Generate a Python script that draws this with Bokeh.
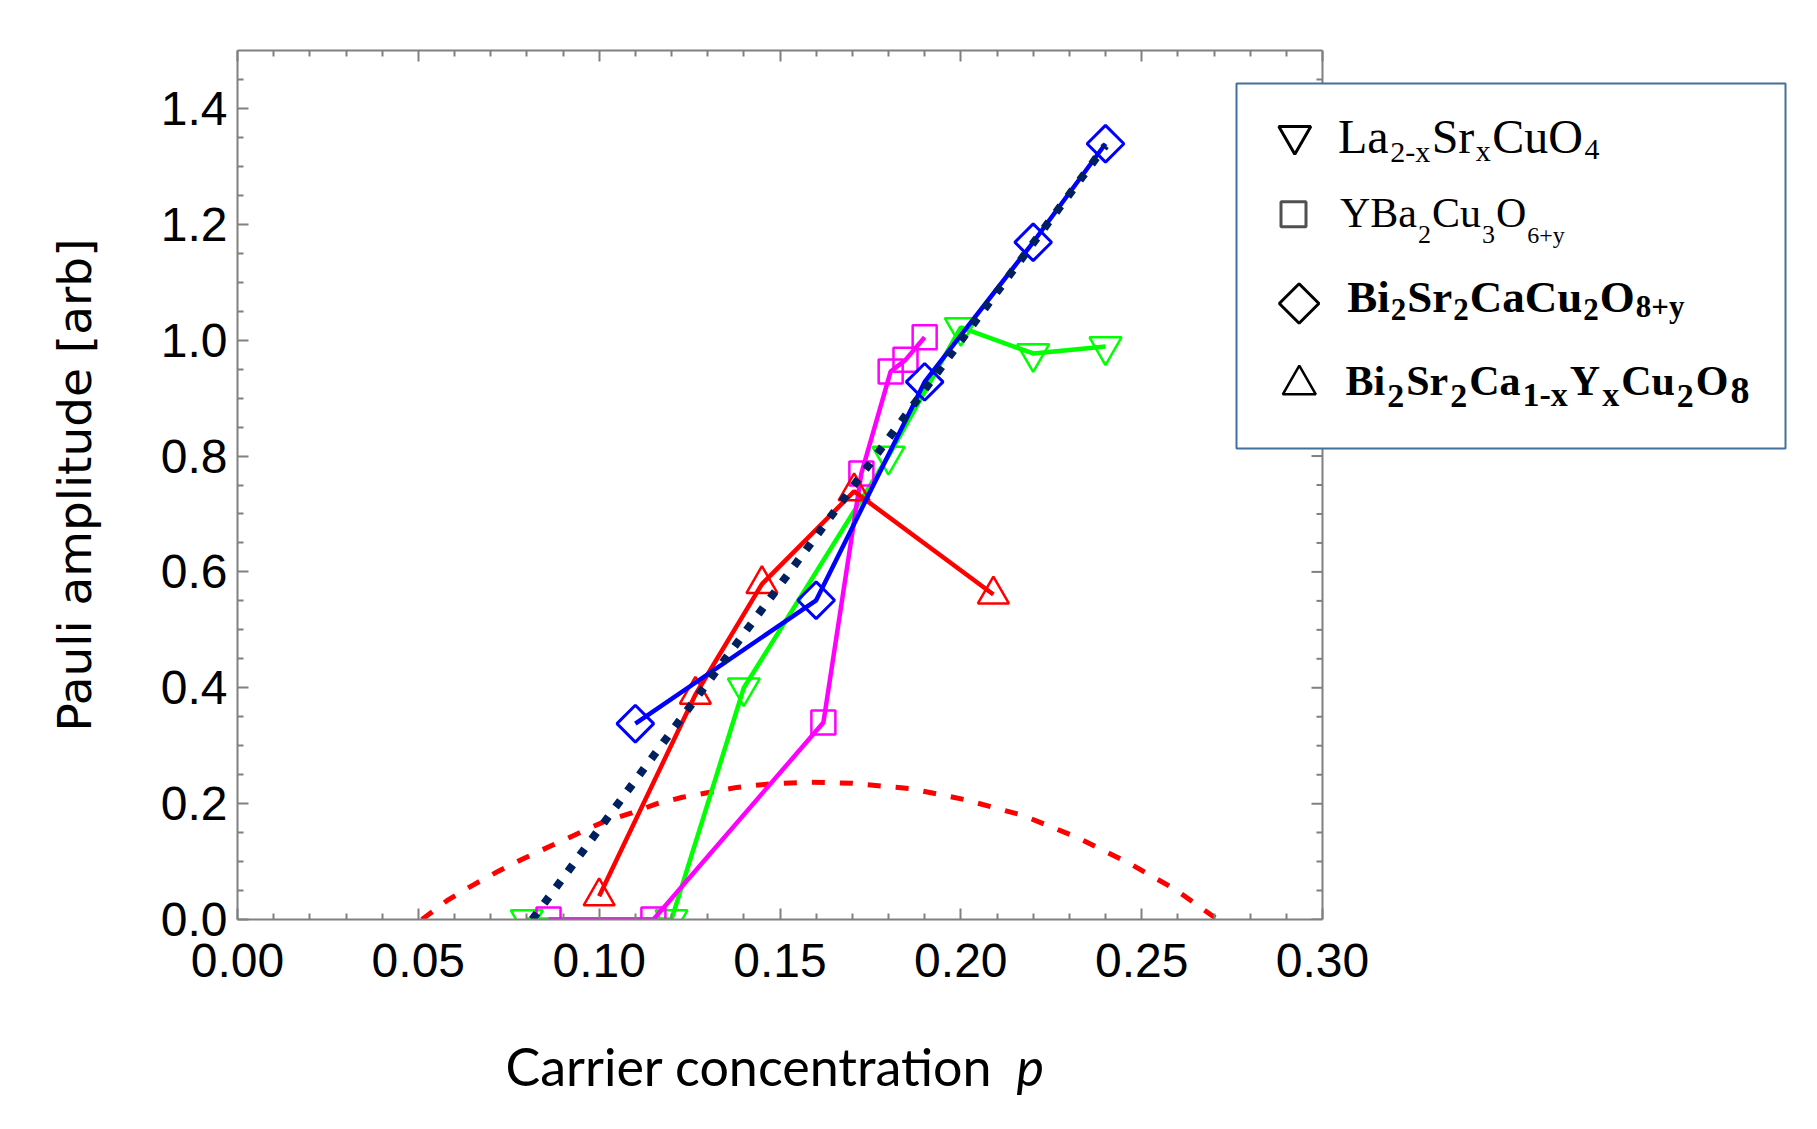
from bokeh.plotting import figure
from bokeh.models import (Range1d, LinearAxis, FixedTicker, NumeralTickFormatter,
                          CustomJSTickFormatter, Label, BoxAnnotation)
from bokeh.embed import file_html
from bokeh.resources import INLINE

# ---------------- data ----------------
X_MIN, X_MAX = 0.0, 0.30
Y_MIN, Y_MAX = 0.0, 1.5
x_major_ticks = [0.00, 0.05, 0.10, 0.15, 0.20, 0.25, 0.30]
y_major_ticks = [0.0, 0.2, 0.4, 0.6, 0.8, 1.0, 1.2, 1.4]
x_minor_step = 0.01
y_minor_step = 0.05

x_label = "Carrier concentration"
x_label_var = "p"
y_label = "Pauli amplitude [arb]"

# La2-xSrxCuO4 (green, down triangles)
lsco_p = [0.080, 0.120, 0.140, 0.180, 0.200, 0.220, 0.240]
lsco_a = [0.000, 0.000, 0.400, 0.800, 1.022, 0.977, 0.989]

# YBa2Cu3O6+y (magenta, squares)
ybco_p = [0.086, 0.115, 0.162, 0.1725, 0.1806, 0.1847, 0.190]
ybco_a = [0.000, 0.000, 0.340, 0.770, 0.946, 0.966, 1.005]

# Bi2Sr2CaCu2O8+y (blue, diamonds)
bscco_p = [0.110, 0.160, 0.190, 0.220, 0.240]
bscco_a = [0.338, 0.551, 0.928, 1.169, 1.339]

# Bi2Sr2Ca1-xYxCu2O8 (red, up triangles)
bscyo_p = [0.100, 0.1266, 0.145, 0.1705, 0.209]
bscyo_a = [0.040, 0.388, 0.579, 0.739, 0.561]

# dotted linear fit (navy)
fit_p = [0.0815, 0.240]
fit_a = [0.000, 1.336]

# dashed dome (red)
dome_p = [0.051, 0.058, 0.065, 0.072, 0.079, 0.087, 0.094, 0.101, 0.109, 0.116,
          0.123, 0.131, 0.138, 0.147, 0.158, 0.170, 0.186, 0.201, 0.217, 0.232,
          0.246, 0.259, 0.271]
dome_a = [0.000, 0.033, 0.059, 0.083, 0.105, 0.128, 0.148, 0.168, 0.184, 0.200,
          0.211, 0.220, 0.228, 0.234, 0.237, 0.235, 0.226, 0.207, 0.180, 0.142,
          0.099, 0.053, 0.000]

# ---------------- layout helpers (page pixels -> data coords) ----------------
PL, PR, PT, PB = 237, 1322, 50, 919   # plot-box edges on the page
FRAME_R = 1795                        # frame extends right to hold the legend box
W, H = 1808, 1118


def dx(px):
    return X_MIN + (px - PL) / (PR - PL) * (X_MAX - X_MIN)


def dy(py):
    return Y_MIN + (PB - py) / (PB - PT) * (Y_MAX - Y_MIN)


x_minor_ticks = [round(i * x_minor_step, 3) for i in range(int(round(X_MAX / x_minor_step)) + 1)]
y_minor_ticks = [round(i * y_minor_step, 3) for i in range(int(round(Y_MAX / y_minor_step)))]
x_minor_ticks = [t for t in x_minor_ticks if all(abs(t - m) > 1e-9 for m in x_major_ticks)]
y_minor_ticks = [t for t in y_minor_ticks if all(abs(t - m) > 1e-9 for m in y_major_ticks)]

p = figure(frame_width=FRAME_R - PL, frame_height=PB - PT,
           x_range=Range1d(X_MIN, dx(FRAME_R)), y_range=Range1d(Y_MIN, Y_MAX),
           output_backend="svg", toolbar_location=None,
           min_border_left=PL, min_border_top=PT,
           min_border_right=W - FRAME_R, min_border_bottom=H - PB)
p.outline_line_color = None
p.grid.visible = False
p.background_fill_color = "white"
p.border_fill_color = "white"

AX_COL = "#808080"
MAJ_IN, MIN_IN = 11, 6


def style_axis(ax, ticker, fmt, labels=True):
    ax.ticker = ticker
    ax.axis_line_color = AX_COL
    ax.axis_line_width = 2
    ax.major_tick_line_color = AX_COL
    ax.major_tick_line_width = 2
    ax.major_tick_in = MAJ_IN
    ax.major_tick_out = 0
    ax.minor_tick_line_color = AX_COL
    ax.minor_tick_line_width = 2
    ax.minor_tick_in = MIN_IN
    ax.minor_tick_out = 0
    if labels:
        ax.formatter = fmt
        ax.major_label_text_font = "Liberation Sans"
        ax.major_label_text_font_size = "48px"
        ax.major_label_text_color = "black"
    else:
        ax.formatter = CustomJSTickFormatter(code="return ''")
        ax.major_label_standoff = 0


xb = p.xaxis[0]
yl = p.yaxis[0]
style_axis(xb, FixedTicker(ticks=x_major_ticks, minor_ticks=x_minor_ticks), NumeralTickFormatter(format="0.00"))
xb.bounds = (X_MIN, X_MAX)
style_axis(yl, FixedTicker(ticks=y_major_ticks, minor_ticks=y_minor_ticks), NumeralTickFormatter(format="0.0"))
xb.major_label_standoff = 24
yl.major_label_standoff = 10
yl.axis_label = y_label
yl.axis_label_text_font = "DejaVu Sans"
yl.axis_label_text_font_size = "47px"
yl.axis_label_text_font_style = "normal"
yl.axis_label_text_color = "black"
yl.axis_label_standoff = 56

xt = LinearAxis()
style_axis(xt, FixedTicker(ticks=x_major_ticks, minor_ticks=x_minor_ticks), None, labels=False)
xt.bounds = (X_MIN, X_MAX)
p.add_layout(xt, "above")

# x axis title under the plot box, with the italic variable next to it
XL_SIZE = 52
XL_MID = 1065
p.add_layout(Label(x=dx(505), y=dy(XL_MID), text=x_label, text_font="Lato",
                   text_font_size=f"{XL_SIZE}px", text_font_style="normal", text_align="left",
                   text_baseline="middle", text_color="black"), "below")
p.add_layout(Label(x=dx(1016), y=dy(XL_MID), text=x_label_var, text_font="Lato",
                   text_font_size=f"{XL_SIZE}px", text_font_style="italic", text_align="left",
                   text_baseline="middle", text_color="black"), "left")

# right-hand frame edge with inward ticks (the plot box ends at X_MAX)
px_x = (X_MAX - X_MIN) / (PR - PL)
p.segment(x0=[X_MAX], y0=[Y_MIN], x1=[X_MAX], y1=[Y_MAX], line_color=AX_COL, line_width=2)
p.segment(x0=[X_MAX] * len(y_major_ticks), y0=y_major_ticks,
          x1=[X_MAX - MAJ_IN * px_x] * len(y_major_ticks), y1=y_major_ticks,
          line_color=AX_COL, line_width=2)
p.segment(x0=[X_MAX] * len(y_minor_ticks), y0=y_minor_ticks,
          x1=[X_MAX - MIN_IN * px_x] * len(y_minor_ticks), y1=y_minor_ticks,
          line_color=AX_COL, line_width=2)

# ---------------- series ----------------
LW = 4.5
p.line(dome_p, dome_a, line_color="#FF0000", line_width=5, line_dash="13 15")

p.line(lsco_p, lsco_a, line_color="#00FF00", line_width=LW)
p.scatter(lsco_p, lsco_a, marker="inverted_triangle", size=32, fill_color=None,
          line_color="#00FF00", line_width=2.5)

p.line(ybco_p, ybco_a, line_color="#FF00FF", line_width=LW)
p.scatter(ybco_p, ybco_a, marker="square", size=24, fill_color=None,
          line_color="#FF00FF", line_width=2.5)

p.line(bscyo_p, bscyo_a, line_color="#FF0000", line_width=LW)
p.scatter(bscyo_p, bscyo_a, marker="triangle", size=31, fill_color=None,
          line_color="#FF0000", line_width=2.5)

p.line(bscco_p, bscco_a, line_color="#0000FF", line_width=LW)
p.scatter(bscco_p, bscco_a, marker="square", angle=0.785398, size=26, fill_color=None,
          line_color="#0000FF", line_width=3)

p.line(fit_p, fit_a, line_color="#002060", line_width=8, line_dash="8 12")

# ---------------- legend ----------------
p.add_layout(BoxAnnotation(left=dx(1236), right=dx(1785), top=dy(83), bottom=dy(448),
                           fill_color="white", fill_alpha=1.0,
                           line_color="#41719C", line_width=2, line_alpha=1.0))

lg = dict(level="overlay", fill_color=None)
p.scatter([dx(1294.3)], [dy(135.2)], marker="inverted_triangle", size=32, line_color="black",
          line_width=3, **lg)
p.scatter([dx(1293)], [dy(213.8)], marker="square", size=25, line_color="#505050",
          line_width=3, **lg)
p.scatter([dx(1298.6)], [dy(303)], marker="square", angle=0.785398, size=28, line_color="black",
          line_width=3, **lg)
p.scatter([dx(1298.8)], [dy(384.3)], marker="triangle", size=33, line_color="black",
          line_width=2.5, **lg)

# Liberation Serif (Times metrics) advance widths, 1/1000 em
REG_W = {'L': 611, 'a': 444, 'S': 556, 'r': 333, 'C': 667, 'u': 500, 'O': 722, 'Y': 722,
         'B': 667, '2': 500, '3': 500, '4': 500, '6': 500, 'x': 500, 'y': 500, '-': 333, '+': 564}
BOLD_W = {'B': 667, 'i': 278, 'S': 556, 'r': 444, 'C': 722, 'a': 500, 'u': 556, 'O': 778,
          'Y': 722, '2': 500, '8': 500, '1': 500, '+': 570, 'y': 500, 'x': 500, '-': 333}
SERIF_MID = 0.3375   # (ascent - descent) / 2 for Liberation Serif


def txt(px, base, s, size, bold=False):
    p.add_layout(Label(x=dx(px), y=dy(base - SERIF_MID * size), text=s, text_font="Liberation Serif",
                       text_font_size=f"{size}px", text_font_style="bold" if bold else "normal",
                       text_align="left", text_baseline="middle", text_color="black",
                       level="overlay"))


def entry(x0, pieces, bold, gap):
    x = x0
    table = BOLD_W if bold else REG_W
    for s, size, base in pieces:
        txt(x, base, s, size, bold)
        x += sum(table[c] for c in s) / 1000 * size + gap


entry(1337.5, [("La", 48, 152), ("2-x", 30, 161), ("Sr", 48, 152), ("x", 30, 160),
               ("CuO", 48, 152), ("4", 30, 159)], False, 1.5)
entry(1339.4, [("YBa", 42, 226.5), ("2", 26, 243), ("Cu", 42, 226.5), ("3", 26, 243),
               ("O", 42, 226.5), ("6+y", 24, 243)], False, 1)
entry(1346.7, [("Bi", 45, 312), ("2", 31, 319), ("Sr", 45, 312), ("2", 31, 319),
               ("CaCu", 45, 312), ("2", 31, 319), ("O", 45, 312), ("8+y", 31, 316)], True, 1)
entry(1345, [("Bi", 42, 395), ("2", 34, 407), ("Sr", 42, 395), ("2", 34, 407),
             ("Ca", 42, 395), ("1-x", 34, 405), ("Y", 42, 395), ("x", 34, 405),
             ("Cu", 42, 395), ("2", 34, 407), ("O", 42, 395), ("8", 38, 403)], True, 2)

open("out.html", "w").write(file_html(p, INLINE))
